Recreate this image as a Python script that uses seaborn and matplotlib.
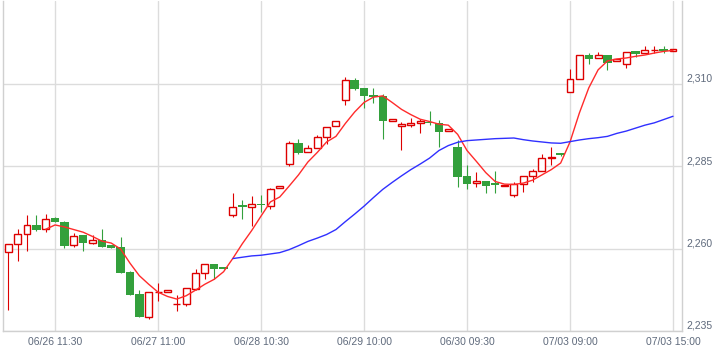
import numpy as np
import pandas as pd
import matplotlib
matplotlib.use("Agg")
import matplotlib.pyplot as plt
import seaborn as sns

# 30-minute candles, 12 bars per session, 06/26 09:00 .. 07/03 15:00
opens = [2259.1, 2261.3, 2264.6, 2267.2, 2265.9, 2269.2, 2268.1, 2261.0, 2264.0, 2261.8, 2262.5, 2261.1,
         2260.4, 2252.9, 2246.2, 2239.3, 2246.7, 2246.7, 2243.2, 2243.1, 2247.8, 2252.5, 2255.3, 2254.0,
         2270.1, 2272.8, 2272.6, 2273.5, 2272.9, 2278.3, 2285.6, 2292.0, 2289.3, 2290.5, 2293.8, 2297.2,
         2305.0, 2311.1, 2308.7, 2306.7, 2306.4, 2298.9, 2297.2, 2297.6, 2298.1, 2298.5, 2298.2, 2295.7,
         2291.0, 2282.1, 2279.8, 2280.5, 2279.4, 2279.0, 2276.3, 2279.5, 2282.0, 2283.7, 2287.4, 2288.6,
         2307.5, 2311.4, 2318.8, 2317.8, 2318.8, 2316.9, 2316.0, 2320.0, 2319.3, 2320.3, 2320.4, 2320.1]
highs = [2261.5, 2265.9, 2270.2, 2270.2, 2270.5, 2269.6, 2268.4, 2264.8, 2264.2, 2264.0, 2265.9, 2261.1,
         2263.6, 2253.3, 2247.3, 2246.8, 2249.5, 2247.3, 2245.8, 2248.2, 2253.7, 2255.3, 2255.3, 2254.0,
         2276.9, 2274.7, 2276.0, 2276.3, 2278.4, 2279.0, 2292.7, 2293.2, 2291.6, 2294.5, 2296.8, 2298.7,
         2312.1, 2311.7, 2308.7, 2308.7, 2307.0, 2299.4, 2298.5, 2299.8, 2299.3, 2301.9, 2299.1, 2296.3,
         2293.0, 2285.4, 2283.4, 2280.5, 2283.6, 2279.3, 2280.3, 2282.1, 2284.2, 2288.6, 2291.0, 2289.0,
         2314.5, 2318.8, 2319.5, 2319.8, 2318.8, 2317.6, 2319.8, 2320.0, 2321.5, 2321.5, 2321.5, 2320.5]
lows = [2241.3, 2256.3, 2259.4, 2265.4, 2265.0, 2268.1, 2260.1, 2260.6, 2259.4, 2261.3, 2260.6, 2260.3,
        2252.7, 2246.0, 2239.3, 2238.5, 2244.1, 2246.7, 2241.0, 2242.7, 2247.4, 2250.9, 2250.7, 2253.9,
        2269.6, 2269.0, 2266.9, 2271.2, 2271.9, 2278.3, 2285.2, 2288.8, 2289.3, 2290.5, 2291.7, 2297.2,
        2303.5, 2308.2, 2302.6, 2304.1, 2293.3, 2298.9, 2290.0, 2296.9, 2295.0, 2297.5, 2291.0, 2295.7,
        2278.8, 2278.1, 2278.8, 2276.8, 2276.8, 2279.0, 2275.8, 2277.3, 2280.3, 2283.7, 2285.4, 2288.2,
        2307.5, 2311.4, 2316.0, 2317.8, 2314.3, 2316.9, 2315.0, 2318.3, 2319.3, 2319.5, 2319.3, 2320.1]
closes = [2261.3, 2264.6, 2267.1, 2265.7, 2269.1, 2268.1, 2260.9, 2263.7, 2261.8, 2262.5, 2260.6, 2260.3,
          2252.7, 2246.0, 2239.3, 2246.8, 2246.8, 2247.3, 2243.2, 2248.2, 2252.5, 2255.3, 2253.9, 2253.9,
          2272.8, 2272.7, 2273.5, 2273.2, 2278.0, 2279.0, 2292.0, 2289.1, 2290.5, 2293.8, 2296.8, 2298.7,
          2311.1, 2308.6, 2306.4, 2306.1, 2298.9, 2299.4, 2297.9, 2298.2, 2298.9, 2298.1, 2295.5, 2296.3,
          2281.8, 2279.7, 2280.5, 2279.1, 2279.3, 2279.3, 2279.5, 2282.1, 2283.5, 2287.4, 2287.9, 2288.5,
          2311.4, 2318.8, 2317.7, 2318.8, 2316.5, 2317.6, 2319.8, 2319.1, 2320.2, 2320.4, 2320.0, 2320.5]

# short moving average (from bar 4) and long moving average (from bar 24)
ma_short_start = 4
ma_short = [2265.9, 2267.2, 2266.6, 2265.8, 2265.0, 2263.7, 2262.3, 2261.7,
            2259.9, 2255.6, 2251.8, 2249.2, 2246.8, 2245.5, 2244.7, 2245.7, 2247.4, 2249.2, 2250.7, 2253.0,
            2257.1, 2261.5, 2265.5, 2269.9, 2274.2, 2275.7, 2279.0, 2282.4, 2286.3, 2289.2, 2292.4, 2294.1,
            2298.0, 2301.5, 2304.4, 2306.0, 2306.4, 2304.4, 2302.3, 2300.7, 2299.3, 2298.6, 2297.8, 2297.5,
            2294.7, 2289.8, 2286.5, 2283.1, 2280.4, 2279.6, 2279.5, 2279.9, 2280.8, 2282.4, 2284.0, 2286.0,
            2292.4, 2301.2, 2308.8, 2314.3, 2317.0, 2317.6, 2317.9, 2318.4, 2318.8, 2319.4, 2319.9, 2320.2]
ma_long_start = 24
ma_long = [2257.0, 2257.4, 2257.8, 2258.0, 2258.4, 2258.8, 2259.7, 2260.9, 2262.2, 2263.2, 2264.3, 2265.8,
           2268.2, 2270.5, 2272.9, 2275.5, 2278.0, 2280.1, 2282.1, 2284.0, 2285.7, 2287.5, 2289.8, 2291.3,
           2292.3, 2292.8, 2293.0, 2293.2, 2293.4, 2293.5, 2293.6, 2293.1, 2292.7, 2292.4, 2292.1, 2292.0,
           2292.5, 2293.0, 2293.4, 2293.7, 2294.1, 2295.0, 2295.7, 2296.6, 2297.5, 2298.2, 2299.2, 2300.2]

tick_pos = [5, 16, 27, 38, 49, 60, 71]
tick_labels = ["06/26 11:30", "06/27 11:00", "06/28 10:30", "06/29 10:00",
               "06/30 09:30", "07/03 09:00", "07/03 15:00"]
y_ticks = [2235, 2260, 2285, 2310]

sns.set_style("white")
plt.rcParams["font.family"] = ["Liberation Sans", "DejaVu Sans"]

up_col = "#dd0000"
down_col = "#33a03c"
label_col = "#5f6a7c"

df = pd.DataFrame({"o": opens, "h": highs, "l": lows, "c": closes})
df["x"] = np.arange(len(df))
up = df[df.c >= df.o]
dn = df[df.c < df.o]

fig = plt.figure(figsize=(7.22, 3.53), dpi=100)
ax = fig.add_axes([3 / 722, 22 / 353, 679 / 722, 330 / 353])

# wicks
ax.vlines(up.x, up.l, up.h, color=up_col, lw=0.8, zorder=2)
ax.vlines(dn.x, dn.l, dn.h, color=down_col, lw=0.8, zorder=2)

# bodies
ax.bar(up.x, np.maximum(up.c - up.o, 0.05), bottom=up.o, width=0.74,
       facecolor="white", edgecolor=up_col, linewidth=1.0, zorder=3)
ax.bar(dn.x, np.maximum(dn.o - dn.c, 0.5), bottom=dn.c, width=0.9,
       color=down_col, linewidth=0, zorder=3)

ma_s = pd.DataFrame({"x": np.arange(ma_short_start, ma_short_start + len(ma_short)), "v": ma_short})
ma_l = pd.DataFrame({"x": np.arange(ma_long_start, ma_long_start + len(ma_long)), "v": ma_long})
sns.lineplot(data=ma_s, x="x", y="v", ax=ax, color="#ff2b2b", lw=1.0, zorder=4)
sns.lineplot(data=ma_l, x="x", y="v", ax=ax, color="#3030ff", lw=1.0, zorder=4)

ax.set_xlim(-0.56, 71.96)
ax.set_ylim(2235, 2335.2)
ax.set_xlabel("")
ax.set_ylabel("")

ax.set_xticks(tick_pos)
ax.set_xticklabels(tick_labels)
ax.yaxis.tick_right()
ax.set_yticks(y_ticks)
ax.set_yticklabels([f"{v:,}" for v in y_ticks])
for lab in ax.get_yticklabels():
    lab.set_va("bottom")
ax.tick_params(axis="both", length=0, labelsize=7.5, labelcolor=label_col)
ax.tick_params(axis="x", pad=4)
ax.tick_params(axis="y", pad=3)

ax.grid(True, color="#dcdcdc", lw=1.0, zorder=0)
ax.set_axisbelow(True)
for side in ["left", "bottom", "right"]:
    ax.spines[side].set_color("#d0d0d0")
    ax.spines[side].set_linewidth(1.0)
ax.spines["top"].set_visible(False)

fig.savefig("out.png", dpi=100, facecolor="white")
